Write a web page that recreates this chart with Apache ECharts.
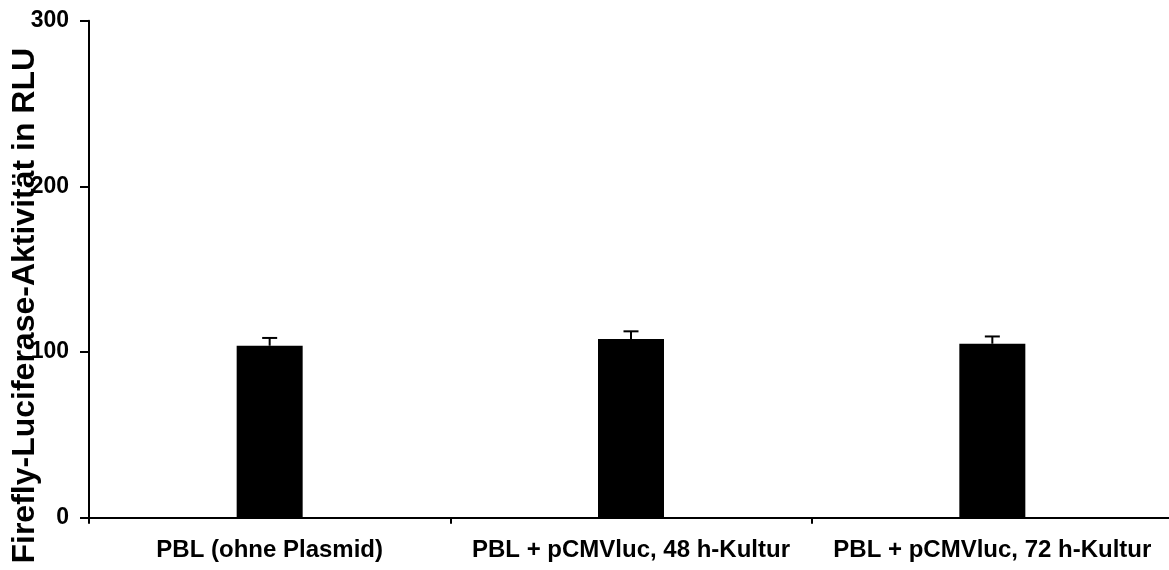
<!DOCTYPE html>
<html>
<head>
<meta charset="utf-8">
<script src="https://cdn.jsdelivr.net/npm/echarts@6/dist/echarts.min.js"></script>
<style>
  html, body { margin: 0; padding: 0; background: #fff; }
  #chart { width: 1169px; height: 570px; }
</style>
</head>
<body>
<div id="chart"></div>
<script>
var categories = ['PBL (ohne Plasmid)', 'PBL + pCMVluc, 48 h-Kultur', 'PBL + pCMVluc, 72 h-Kultur'];
var values = [103.8, 107.9, 105.0];
var errors = [4.7, 4.6, 4.4];
var yTicks = [0, 100, 200, 300];

var font = "'Liberation Sans', Arial, sans-serif";
var myChart = echarts.init(document.getElementById('chart'));

var errData = values.map(function (v, i) {
    return [i, v, v + errors[i]];
});

var option = {
    animation: false,
    grid: {
        left: 89,
        top: 20.7,
        bottom: 52.3,
        width: 1084,
        containLabel: false,
        outerBoundsMode: 'none'
    },
    xAxis: {
        type: 'category',
        data: categories,
        axisLine: { lineStyle: { color: '#000', width: 2 } },
        axisTick: { show: true, length: 6, inside: false, lineStyle: { color: '#000', width: 2 } },
        axisLabel: {
            color: '#000', fontFamily: font, fontWeight: 'bold', fontSize: 24,
            margin: 21, interval: 0
        },
        splitLine: { show: false }
    },
    yAxis: {
        type: 'value',
        min: yTicks[0],
        max: yTicks[yTicks.length - 1],
        interval: 100,
        name: 'Firefly-Luciferase-Aktivität in RLU',
        nameLocation: 'middle',
        nameGap: 48,
        nameMoveOverlap: false,
        nameTextStyle: {
            color: '#000', fontFamily: font, fontWeight: 'bold', fontSize: 32,
            padding: [0, 73, 0, 0]
        },
        axisLine: { show: true, lineStyle: { color: '#000', width: 2 } },
        axisTick: { show: true, length: 9, lineStyle: { color: '#000', width: 2 } },
        axisLabel: {
            color: '#000', fontFamily: font, fontWeight: 'bold', fontSize: 23,
            margin: 20
        },
        splitLine: { show: false }
    },
    series: [{
        type: 'bar',
        data: values,
        barWidth: 66,
        itemStyle: { color: '#000' },
        z: 2
    }, {
        type: 'custom',
        data: errData,
        z: 3,
        renderItem: function (params, api) {
            var lo = api.coord([api.value(0), api.value(1)]);
            var hi = api.coord([api.value(0), api.value(2)]);
            var half = 7.5;
            return {
                type: 'group',
                children: [{
                    type: 'line',
                    shape: { x1: lo[0], y1: lo[1], x2: hi[0], y2: hi[1] },
                    style: { stroke: '#000', lineWidth: 2 }
                }, {
                    type: 'line',
                    shape: { x1: hi[0] - half, y1: hi[1], x2: hi[0] + half, y2: hi[1] },
                    style: { stroke: '#000', lineWidth: 2 }
                }]
            };
        }
    }]
};

myChart.setOption(option);
</script>
</body>
</html>
